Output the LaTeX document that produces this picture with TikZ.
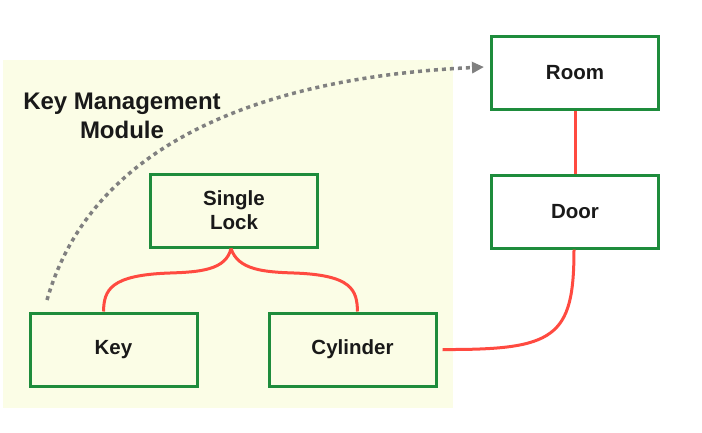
\documentclass[tikz,border=0pt]{standalone}
\usepackage{fontspec}
\setmainfont{Liberation Sans}
\usetikzlibrary{arrows.meta}
\definecolor{boxgreen}{HTML}{1E8C3C}
\definecolor{linkred}{HTML}{FF4A40}
\definecolor{modbg}{HTML}{FBFDE6}
\definecolor{dotgray}{HTML}{808080}
\tikzset{
  ent/.style={draw=boxgreen, line width=3pt, fill=white, minimum width=167pt, minimum height=73pt,
    inner sep=0pt, align=center, font=\fontsize{20.5}{24}\selectfont\bfseries, text=black!90},
  modent/.style={ent, fill=modbg},
  link/.style={draw=linkred, line width=3pt},
  dep/.style={draw=dotgray, line width=3.5pt, dash pattern=on 4pt off 4pt,
    -{Triangle[length=12pt,width=11pt,fill=dotgray]}}
}
\begin{document}
\begin{tikzpicture}[x=1pt,y=-1pt]
\useasboundingbox (0,0) rectangle (702,432);
\fill[modbg] (3,60) rectangle (453,408);
\node[font=\fontsize{24}{29}\selectfont\bfseries, align=center, text=black!90] (modlabel) at (122,116) {Key Management\\Module};
\node[ent] (room) at (575,72.5) {Room};
\node[ent] (door) at (575,211.5) {Door};
\node[modent] (lock) at (234,210.5) {Single\\Lock};
\node[modent] (key) at (113.5,349.5) {Key};
\node[modent] (cyl) at (352.5,349.5) {Cylinder};
\draw[link] (room) -- (door);
\draw[link] ([xshift=-3pt]lock.south) .. controls (226,270) and (200,272) .. (170,273)
  .. controls (110,275) and (104,290) .. ([xshift=-10pt]key.north);
\draw[link] ([xshift=-3pt]lock.south) .. controls (238,270) and (264,272) .. (294,273)
  .. controls (352,275) and (357,290) .. ([xshift=5pt]cyl.north);
\draw[link] ([xshift=5pt]cyl.east) .. controls (555,350) and (574,338) .. ([xshift=-1pt]door.south);
\coordinate (depstart) at (47,300);
\draw[dep] (depstart) .. controls (90,150) and (250,78) .. ([xshift=-6pt,yshift=5.5pt]room.west);
\end{tikzpicture}
\end{document}
